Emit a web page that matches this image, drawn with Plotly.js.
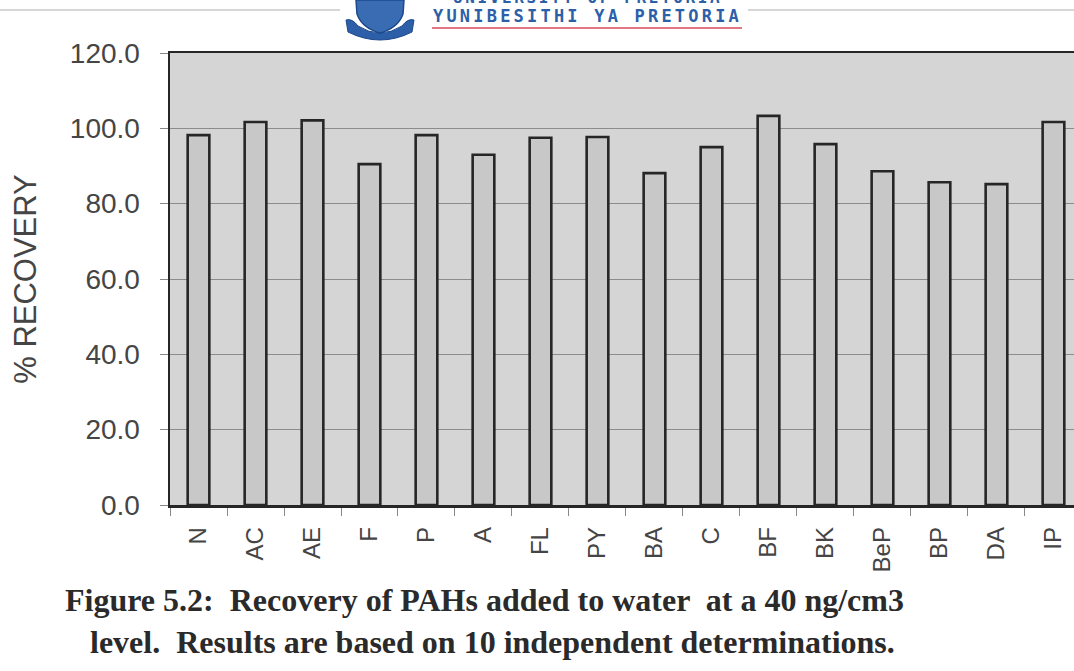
<!DOCTYPE html>
<html>
<head>
<meta charset="utf-8">
<script src="https://cdn.plot.ly/plotly-3.0.1.min.js"></script>
<style>html,body{margin:0;padding:0;background:#fff;overflow:hidden;}</style>
</head>
<body>
<div id="chart" style="width:1074px;height:671px;"></div>
<script>
// Data
var compounds = ["N","AC","AE","F","P","A","FL","PY","BA","C","BF","BK","BeP","BP","DA","IP"];
var recovery  = [98.2,101.7,102.1,90.5,98.2,93.0,97.5,97.7,88.1,95.0,103.3,95.8,88.6,85.7,85.2,101.7];
var yTicks = [0,20,40,60,80,100,120];
var yTickLabels = ["0.0","20.0","40.0","60.0","80.0","100.0","120.0"];
var yTitle = "% RECOVERY";
var captionLine1 = "Figure 5.2:  Recovery of PAHs added to water  at a 40 ng/cm3";
var captionLine2 = "level.  Results are based on 10 independent determinations.";

// pixel helpers (plot area: x 170..1074, y 53..505)
function px(x){ return (x-170)/904; }
function py(y){ return (505-y)/452; }

var trace = {
  type: "bar",
  x: compounds,
  y: recovery,
  marker: { color: "#c8c8c8", line: { color: "#262626", width: 2.6 } },
  hoverinfo: "x+y"
};

var textColor = "#454545";
var sans = "Liberation Sans, Arial, sans-serif";

var shieldPath = "M " + px(356) + "," + py(0) +
  " L " + px(404) + "," + py(0) +
  " L " + px(403) + "," + py(14) +
  " Q " + px(398) + "," + py(28) + " " + px(380) + "," + py(33) +
  " Q " + px(362) + "," + py(28) + " " + px(357) + "," + py(14) + " Z";
var bannerPath = "M " + px(346) + "," + py(20) +
  " Q " + px(352) + "," + py(18) + " " + px(358) + "," + py(26) +
  " Q " + px(380) + "," + py(40) + " " + px(402) + "," + py(26) +
  " Q " + px(408) + "," + py(18) + " " + px(414) + "," + py(20) +
  " L " + px(412) + "," + py(32) +
  " Q " + px(380) + "," + py(48) + " " + px(348) + "," + py(32) + " Z";

var layout = {
  width: 1074,
  height: 671,
  margin: { l: 170, r: 0, t: 53, b: 166 },
  paper_bgcolor: "#ffffff",
  plot_bgcolor: "#d5d5d5",
  bargap: 0.62,
  showlegend: false,
  font: { family: sans, color: textColor },
  xaxis: {
    type: "category",
    range: [-0.5, 15.36],
    tickson: "boundaries",
    ticks: "outside",
    ticklen: 8,
    tickwidth: 1,
    tickcolor: "#888888",
    tickangle: -90,
    ticklabelstandoff: 10,
    tickfont: { size: 24, color: textColor, family: sans },
    showgrid: false,
    showline: true,
    linecolor: "#262626",
    linewidth: 2.5,
    mirror: true,
    zeroline: false,
    fixedrange: true
  },
  yaxis: {
    range: [0, 120],
    tickvals: yTicks,
    ticktext: yTickLabels,
    ticks: "outside",
    ticklen: 8,
    tickwidth: 1,
    tickcolor: "#888888",
    ticklabelstandoff: 14,
    tickfont: { size: 28, color: textColor, family: sans },
    showgrid: true,
    gridcolor: "#8c8c8c",
    gridwidth: 1,
    showline: true,
    linecolor: "#262626",
    linewidth: 2.5,
    mirror: true,
    zeroline: false,
    fixedrange: true,
    title: { text: yTitle, font: { size: 31, color: textColor, family: sans }, standoff: 24 }
  },
  shapes: [
    { type: "line", xref: "paper", yref: "paper", x0: px(0), x1: px(340), y0: py(10), y1: py(10), line: { color: "#b0b0b0", width: 1.2 } },
    { type: "line", xref: "paper", yref: "paper", x0: px(748), x1: px(1074), y0: py(10), y1: py(10), line: { color: "#b0b0b0", width: 1.2 } },
    { type: "line", xref: "paper", yref: "paper", x0: px(432), x1: px(742), y0: py(28), y1: py(28), line: { color: "#d84a5a", width: 1.5 } },
    { type: "path", xref: "paper", yref: "paper", path: bannerPath, fillcolor: "#2c5fa8", line: { color: "#1d4a8c", width: 1 } },
    { type: "path", xref: "paper", yref: "paper", path: shieldPath, fillcolor: "#3a6cb4", line: { color: "#1d4a8c", width: 1.5 } }
  ],
  annotations: [
    { xref: "paper", yref: "paper", x: px(587), y: py(-3), xanchor: "center", yanchor: "middle", showarrow: false,
      text: "<b><span style=\"letter-spacing:2.6px\">UNIVERSITY OF PRETORIA</span></b>", font: { size: 16, color: "#2c5fa8", family: "DejaVu Sans Mono, monospace" } },
    { xref: "paper", yref: "paper", x: px(587), y: py(16), xanchor: "center", yanchor: "middle", showarrow: false,
      text: "<b><span style=\"letter-spacing:3.2px\">YUNIBESITHI YA PRETORIA</span></b>", font: { size: 17, color: "#2c5fa8", family: "DejaVu Sans Mono, monospace" } },
    { xref: "paper", yref: "paper", x: px(63), y: py(600), xanchor: "left", yanchor: "middle", showarrow: false,
      text: "<b>" + captionLine1 + "</b>", font: { size: 32, color: "#2a2a2a", family: "Liberation Serif, Times New Roman, serif" } },
    { xref: "paper", yref: "paper", x: px(88), y: py(642), xanchor: "left", yanchor: "middle", showarrow: false,
      text: "<b>" + captionLine2 + "</b>", font: { size: 32, color: "#2a2a2a", family: "Liberation Serif, Times New Roman, serif" } }
  ]
};

Plotly.newPlot("chart", [trace], layout, { displayModeBar: false, staticPlot: true });
</script>
</body>
</html>
